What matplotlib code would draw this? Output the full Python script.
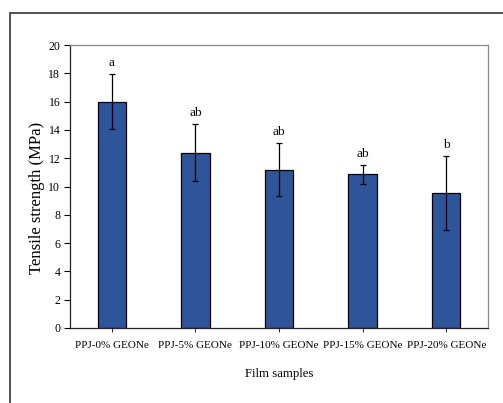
import matplotlib
matplotlib.use("Agg")
import matplotlib.pyplot as plt
from matplotlib.patches import Rectangle

categories = ["PPJ-0% GEONe", "PPJ-5% GEONe", "PPJ-10% GEONe", "PPJ-15% GEONe", "PPJ-20% GEONe"]
values = [16.0, 12.4, 11.2, 10.87, 9.56]
errors = [1.95, 2.0, 1.85, 0.68, 2.6]
letters = ["a", "ab", "ab", "ab", "b"]
yticks = [0, 2, 4, 6, 8, 10, 12, 14, 16, 18, 20]

plt.rcParams['font.family'] = ['Liberation Serif', 'DejaVu Serif']

W, H = 503, 403
fig = plt.figure(figsize=(W/100, H/100), dpi=100)
ax = fig.add_axes([70/W, 1-328/H, (488-70)/W, (328-45)/H])

x = list(range(len(categories)))
ax.bar(x, values, width=0.34, color="#2E559A", edgecolor="black", linewidth=0.9,
       yerr=errors, error_kw=dict(ecolor="black", elinewidth=0.9, capsize=2.5, capthick=0.9))
for xi, v, e, t in zip(x, values, errors, letters):
    ax.text(xi, v + e + 0.35, t, ha="center", va="bottom", fontsize=9.5)

ax.set_xlim(-0.5, 4.5)
ax.set_ylim(0, 20)
ax.set_yticks(yticks)
ax.set_xticks(x)
ax.set_xticklabels(categories, fontsize=8)
ax.tick_params(axis='y', labelsize=8.5, direction='out', length=4, width=0.8, pad=3)
ax.tick_params(axis='x', direction='out', length=3, width=0.6, pad=6)
for s in ["left", "bottom"]:
    ax.spines[s].set_color("#222222")
    ax.spines[s].set_linewidth(0.9)
for s in ["top", "right"]:
    ax.spines[s].set_color("#888888")
    ax.spines[s].set_linewidth(0.9)

ax.set_ylabel("Tensile strength (MPa)", fontsize=12, va="center")
ax.yaxis.set_label_coords(-0.079, 0.459)
ax.set_xlabel("Film samples", fontsize=9.2, labelpad=13)

fig.patches.append(Rectangle((10/W, -0.1), 1.2, 1-13/H+0.1, transform=fig.transFigure,
                             fill=False, edgecolor="#444444", linewidth=1.3, figure=fig))

fig.savefig("out.png", dpi=100)
